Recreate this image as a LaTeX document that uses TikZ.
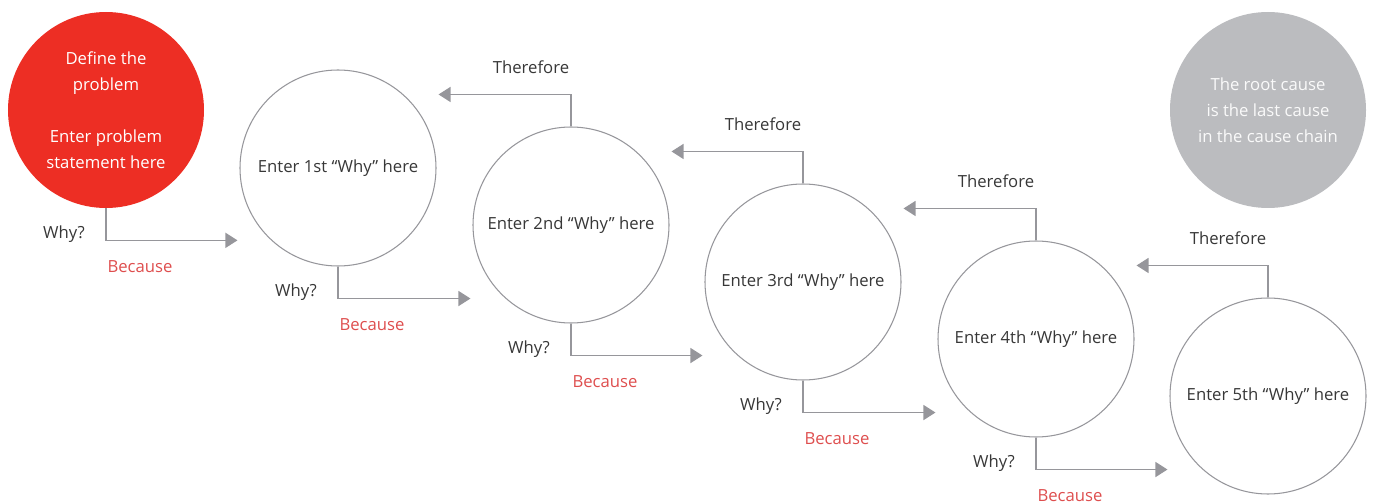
\documentclass[tikz,border=0pt]{standalone}
\usepackage{fontspec}
\setmainfont{Open Sans}
\usetikzlibrary{arrows.meta, positioning, calc}
\definecolor{whyRed}{RGB}{237,46,36}
\definecolor{becauseRed}{RGB}{222,78,78}
\definecolor{rootGrey}{RGB}{187,188,191}
\definecolor{lineGrey}{RGB}{150,150,155}
\definecolor{textDark}{RGB}{55,55,55}

\begin{document}
\begin{tikzpicture}[
    font=\fontsize{9.5}{14.8}\selectfont,
    why/.style={circle, draw=lineGrey, line width=0.6pt, minimum size=3.92cm, inner sep=0pt, text=textDark, align=center},
    problem/.style={circle, fill=whyRed, minimum size=3.92cm, inner sep=0pt, text=white, align=center},
    root/.style={circle, fill=rootGrey, minimum size=3.92cm, inner sep=0pt, text=white!92!rootGrey, align=center},
    arrow/.style={-{Triangle[length=2.4mm, width=3mm]}, draw=lineGrey, line width=0.7pt, shorten >=0.04cm},
    ask/.style={text=textDark, anchor=east},
    because/.style={text=becauseRed},
    therefore/.style={text=textDark}
]
\useasboundingbox (0,0) rectangle (27.5,-10.08);

\node[problem] (define) at (2.12,-2.20) {Define the\\problem\\[14.8pt]Enter problem\\statement here};
\node[why] (why1) at (6.76,-3.36) {Enter 1st ``Why'' here};
\node[why] (why2) at (11.42,-4.50) {Enter 2nd ``Why'' here};
\node[why] (why3) at (16.06,-5.64) {Enter 3rd ``Why'' here};
\node[why] (why4) at (20.72,-6.78) {Enter 4th ``Why'' here};
\node[why] (why5) at (25.36,-7.92) {Enter 5th ``Why'' here};
\node[root] (root) at (25.36,-2.20) {The root cause\\is the last cause\\in the cause chain};

% Why? / Because
\draw[arrow] (define.south) -- ++(0,-0.64) coordinate (d0) -- (d0 -| why1.west);
\draw[arrow] (why1.south) -- ++(0,-0.64) coordinate (d1) -- (d1 -| why2.west);
\draw[arrow] (why2.south) -- ++(0,-0.64) coordinate (d2) -- (d2 -| why3.west);
\draw[arrow] (why3.south) -- ++(0,-0.64) coordinate (d3) -- (d3 -| why4.west);
\draw[arrow] (why4.south) -- ++(0,-0.64) coordinate (d4) -- (d4 -| why5.west);

\node[ask] (ask0) at ($(d0)+(-0.3,0.12)$) {Why?};
\node[ask] (ask1) at ($(d1)+(-0.3,0.12)$) {Why?};
\node[ask] (ask2) at ($(d2)+(-0.3,0.12)$) {Why?};
\node[ask] (ask3) at ($(d3)+(-0.3,0.12)$) {Why?};
\node[ask] (ask4) at ($(d4)+(-0.3,0.12)$) {Why?};

\node[because] (bec0) at ($(d0)+(0.68,-0.52)$) {Because};
\node[because] (bec1) at ($(d1)+(0.68,-0.52)$) {Because};
\node[because] (bec2) at ($(d2)+(0.68,-0.52)$) {Because};
\node[because] (bec3) at ($(d3)+(0.68,-0.52)$) {Because};
\node[because] (bec4) at ($(d4)+(0.68,-0.52)$) {Because};

% Therefore
\draw[arrow] (why2.north) -- ++(0,0.64) coordinate (t1) -- (t1 -| why1.east);
\draw[arrow] (why3.north) -- ++(0,0.64) coordinate (t2) -- (t2 -| why2.east);
\draw[arrow] (why4.north) -- ++(0,0.64) coordinate (t3) -- (t3 -| why3.east);
\draw[arrow] (why5.north) -- ++(0,0.64) coordinate (t4) -- (t4 -| why4.east);

\node[therefore] (thf1) at ($(t1)+(-0.8,0.54)$) {Therefore};
\node[therefore] (thf2) at ($(t2)+(-0.8,0.54)$) {Therefore};
\node[therefore] (thf3) at ($(t3)+(-0.8,0.54)$) {Therefore};
\node[therefore] (thf4) at ($(t4)+(-0.8,0.54)$) {Therefore};

\end{tikzpicture}
\end{document}
